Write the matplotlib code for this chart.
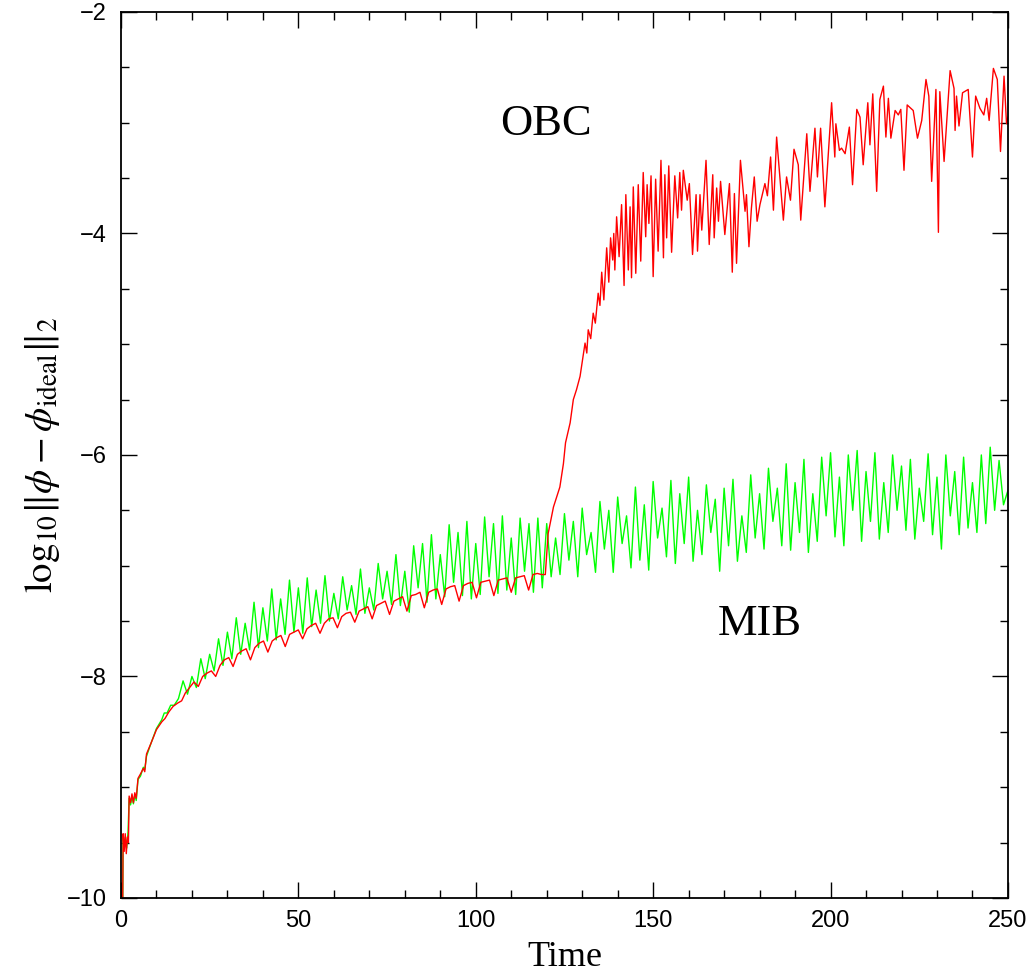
import numpy as np
import matplotlib
matplotlib.use('Agg')
import matplotlib.pyplot as plt
from matplotlib.ticker import MultipleLocator

# ---- OBC (red) : log10 error vs time ----
t_obc_start = [0.5, 0.6, 0.9, 1.2, 1.5, 1.8, 2.1, 2.3, 2.7, 3.1, 3.5, 3.9, 4.3,
               4.8, 5.5, 6.3, 6.7, 7.2, 8.5, 10.0, 11.5, 12.4, 13.5, 14.7, 16.0, 17.1]
obc_start = [-10.0, -9.42, -9.58, -9.42, -9.60, -9.45, -9.50, -9.08, -9.14, -9.06,
             -9.14, -9.05, -9.10, -8.92, -8.88, -8.83, -8.86, -8.70, -8.60, -8.48,
             -8.41, -8.38, -8.32, -8.27, -8.24, -8.22]

# smooth part with a small dip every ~4.9 time units (sampled every 1.225)
obc_smooth = [-8.15, -8.10, -8.05, -8.09,
              -8.00, -7.97, -7.95, -8.00,
              -7.90, -7.85, -7.83, -7.91,
              -7.80, -7.77, -7.75, -7.85,
              -7.74, -7.70, -7.68, -7.78,
              -7.68, -7.65, -7.63, -7.73,
              -7.62, -7.60, -7.58, -7.66,
              -7.57, -7.54, -7.52, -7.61,
              -7.52, -7.48, -7.47, -7.56,
              -7.46, -7.43, -7.42, -7.51,
              -7.41, -7.39, -7.37, -7.48,
              -7.36, -7.34, -7.32, -7.44,
              -7.32, -7.30, -7.28, -7.41,
              -7.27, -7.26, -7.24, -7.38,
              -7.24, -7.22, -7.21, -7.35,
              -7.21, -7.19, -7.18, -7.32,
              -7.18, -7.16, -7.15, -7.29,
              -7.15, -7.14, -7.13, -7.27,
              -7.13, -7.12, -7.11, -7.24,
              -7.11, -7.10, -7.09, -7.22,
              -7.08, -7.07, -7.08]
t_obc_smooth = 18.125 + 1.225 * np.arange(len(obc_smooth))

t_obc_late = [119.6, 120.4, 121.9, 123.7, 124.7, 125.3, 126.6, 127.5, 128.4, 129.4,
              130.1, 130.8, 131.3, 131.7, 132.4, 133.1, 133.7, 134.5, 135.0, 135.5,
              136.1, 136.9, 137.5, 138.0, 138.6, 138.9, 139.2, 139.7, 140.4, 141.1,
              141.8, 142.3, 143.0, 143.5, 143.9, 144.4, 145.1, 145.8, 146.5, 147.2,
              147.9, 148.3, 148.8, 149.4, 150.0, 150.7, 151.4, 152.2, 152.9, 153.3,
              153.8, 154.4, 155.2, 156.1, 156.9, 157.5, 158.0, 158.5, 159.6, 160.2,
              161.1, 162.1, 162.5, 163.2, 163.7, 164.9, 165.8, 166.8, 167.2, 167.9,
              168.4, 169.0, 170.2, 171.5, 172.3, 172.9, 173.5, 174.6, 175.9, 176.3,
              177.0, 177.7, 178.5, 179.3, 180.1, 181.5, 182.2, 183.1, 183.9, 184.8,
              186.7, 187.6, 188.7, 189.7, 190.9, 191.6, 193.3, 194.2, 195.6, 196.3,
              197.2, 198.4, 200.3, 201.2, 201.5, 202.5, 203.1, 204.1, 205.3, 206.2,
              207.4, 208.3, 209.2, 210.5, 211.1, 211.9, 213.0, 213.9, 214.9, 215.6,
              216.3, 217.0, 218.2, 219.1, 219.8, 220.7, 221.6, 223.3, 224.5, 225.7,
              226.9, 227.7, 228.5, 229.7, 230.4, 230.8, 232.0, 233.7, 234.8, 235.1,
              235.5, 236.2, 237.2, 238.8, 240.0, 240.9, 242.1, 243.2, 244.0, 244.7,
              245.9, 247.0, 247.9, 248.9, 249.6, 250.0]
obc_late = [-7.08, -6.71, -6.47, -6.29, -6.08, -5.89, -5.71, -5.50, -5.41, -5.29,
            -5.14, -4.99, -5.08, -4.87, -4.95, -4.72, -4.81, -4.54, -4.65, -4.35,
            -4.60, -4.13, -4.44, -4.04, -4.24, -4.00, -4.33, -3.85, -4.21, -3.74,
            -4.47, -3.65, -4.33, -3.76, -4.40, -3.58, -4.36, -3.56, -4.25, -3.45,
            -4.03, -3.56, -3.91, -3.48, -4.39, -3.51, -4.16, -3.34, -4.22, -3.47,
            -4.04, -3.39, -4.17, -3.48, -3.86, -3.45, -3.79, -3.43, -3.70, -3.55,
            -4.19, -3.65, -4.16, -3.65, -3.97, -3.34, -4.10, -3.47, -4.04, -3.59,
            -3.89, -3.53, -4.01, -3.55, -4.35, -3.64, -4.27, -3.34, -3.80, -3.65,
            -4.12, -3.77, -3.49, -3.89, -3.74, -3.55, -3.66, -3.31, -3.79, -3.13,
            -3.88, -3.49, -3.70, -3.24, -3.38, -3.88, -3.10, -3.62, -3.05, -3.49,
            -3.05, -3.76, -2.82, -3.31, -3.01, -3.25, -3.23, -3.28, -3.04, -3.56,
            -2.88, -2.95, -3.38, -2.82, -3.20, -2.74, -3.62, -2.79, -2.67, -3.13,
            -2.78, -3.14, -2.89, -2.93, -2.88, -3.43, -2.84, -2.89, -3.14, -2.98,
            -2.61, -2.76, -3.53, -2.70, -3.99, -2.72, -3.35, -2.53, -2.69, -3.07,
            -2.76, -3.03, -2.73, -2.70, -3.31, -2.76, -2.87, -2.93, -2.78, -2.98,
            -2.51, -2.61, -3.26, -2.58, -3.01, -2.95]

# ---- MIB (green) ----
t_mib_start = [0.5, 0.6, 0.9, 1.2, 1.6, 2.0, 2.3, 2.7, 3.1, 3.5, 3.9, 4.3, 4.8,
               5.5, 6.3, 6.7, 7.2, 8.5, 10.0, 11.5, 12.2, 13.0, 14.0, 15.0, 16.2]
mib_start = [-10.0, -9.45, -9.55, -9.45, -9.55, -9.40, -9.10, -9.16, -9.08, -9.15,
             -9.07, -9.12, -8.93, -8.90, -8.82, -8.84, -8.72, -8.60, -8.47, -8.39,
             -8.33, -8.33, -8.26, -8.26, -8.20]

# sampled every 1.25 from t = 17.5
mib_main = [-8.04, -8.16, -8.00, -8.10, -7.84, -8.02, -7.80, -7.95,
            -7.66, -7.90, -7.60, -7.84, -7.47, -7.80, -7.52, -7.76,
            -7.33, -7.74, -7.38, -7.68, -7.21, -7.67, -7.30, -7.62,
            -7.13, -7.60, -7.20, -7.61, -7.11, -7.55, -7.22, -7.52,
            -7.09, -7.50, -7.25, -7.48, -7.10, -7.40, -7.18, -7.44,
            -7.03, -7.43, -7.20, -7.40, -6.98, -7.30, -7.05, -7.35,
            -6.90, -7.36, -7.05, -7.42, -6.82, -7.20, -6.80, -7.33,
            -6.72, -7.30, -6.90, -7.28, -6.63, -7.15, -6.70, -7.27,
            -6.60, -7.30, -6.80, -7.26, -6.56, -7.10, -6.62, -7.25,
            -6.55, -7.22, -6.75, -7.26, -6.57, -7.05, -6.62, -7.24,
            -6.57, -7.20, -6.62, -7.10, -6.75, -7.08, -6.53, -6.95,
            -6.60, -7.10, -6.48, -6.90, -6.70, -7.06, -6.42, -6.85,
            -6.50, -7.06, -6.38, -6.80, -6.55, -7.02, -6.29, -6.95,
            -6.45, -7.04, -6.24, -6.75, -6.48, -6.92, -6.23, -6.98,
            -6.35, -6.80, -6.20, -6.96, -6.50, -6.90, -6.27, -6.70,
            -6.40, -7.05, -6.30, -6.82, -6.22, -6.96, -6.55, -6.88,
            -6.18, -6.75, -6.35, -6.85, -6.12, -6.60, -6.30, -6.82,
            -6.08, -6.86, -6.25, -6.70, -6.04, -6.88, -6.35, -6.78,
            -6.02, -6.55, -5.98, -6.74, -6.20, -6.82, -6.00, -6.50,
            -5.96, -6.78, -6.15, -6.60, -5.98, -6.76, -6.25, -6.70,
            -6.00, -6.50, -6.10, -6.68, -6.04, -6.76, -6.30, -6.60,
            -5.99, -6.72, -6.20, -6.85, -6.00, -6.55, -6.15, -6.72,
            -6.02, -6.66, -6.25, -6.70, -6.00, -6.62, -5.93, -6.50,
            -6.05, -6.45, -6.32]
t_mib_main = 17.5 + 1.25 * np.arange(len(mib_main))

t_obc = np.concatenate([t_obc_start, t_obc_smooth, t_obc_late])
obc = np.concatenate([obc_start, obc_smooth, obc_late])
t_mib = np.concatenate([t_mib_start, t_mib_main])
mib = np.concatenate([mib_start, mib_main])

plt.rcParams['font.family'] = ['Liberation Serif', 'DejaVu Serif']
plt.rcParams['mathtext.fontset'] = 'stix'

fig = plt.figure(figsize=(10.34, 9.77), dpi=100)
ax = fig.add_axes([0.1170, 0.0809, 0.8578, 0.9069])

ax.plot(t_mib, mib, color='#00ff00', lw=1.0)
ax.plot(t_obc, obc, color='#ff0000', lw=1.0)

ax.set_xlim(0, 250)
ax.set_ylim(-10, -2)
ax.xaxis.set_major_locator(MultipleLocator(50))
ax.xaxis.set_minor_locator(MultipleLocator(10))
ax.yaxis.set_major_locator(MultipleLocator(2))
ax.yaxis.set_minor_locator(MultipleLocator(0.5))
ax.tick_params(which='both', direction='in', top=True, right=True, width=1.0)
ax.tick_params(which='major', length=11.5)
ax.tick_params(which='minor', length=5.8)
ax.tick_params(axis='x', which='major', pad=9, labelsize=17)
ax.tick_params(axis='y', which='major', pad=10, labelsize=17)
for lab in ax.get_xticklabels() + ax.get_yticklabels():
    lab.set_family('Liberation Sans')
for sp in ax.spines.values():
    sp.set_linewidth(1.3)

ax.set_xlabel('Time', fontsize=26, labelpad=6)
ax.set_ylabel(r'$\mathrm{log}_{10}\|\phi-\phi_{\mathrm{ideal}}\|_2$', fontsize=28, labelpad=4)

ax.text(119.8, -3.01, 'OBC', fontsize=32, ha='center', va='center')
ax.text(180.1, -7.53, 'MIB', fontsize=32, ha='center', va='center')

fig.savefig('out.png', dpi=100)
